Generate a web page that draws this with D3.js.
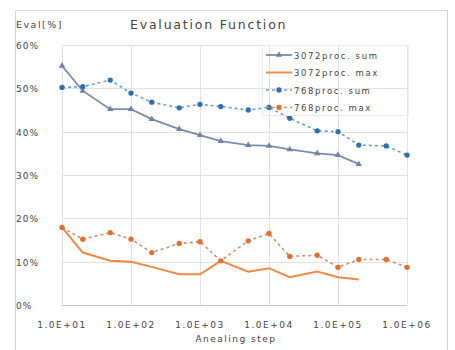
<!DOCTYPE html>
<meta charset="utf-8">
<script src="https://d3js.org/d3.v7.min.js"></script>
<style>
  body { margin: 0; background: #fff; }
  text { font-family: "DejaVu Sans", sans-serif; fill: #454545; }
</style>
<div id="chart"></div>
<script>
  // Annealing steps (1-2-5 sequence)
  const steps3072 = [10, 20, 50, 100, 200, 500, 1e3, 2e3, 5e3, 1e4, 2e4, 5e4, 1e5, 2e5];
  const steps768 = [10, 20, 50, 100, 200, 500, 1e3, 2e3, 5e3, 1e4, 2e4, 5e4, 1e5, 2e5, 5e5, 1e6];

  // Evaluation values in %
  const sum3072 = [55.2, 49.4, 45.2, 45.2, 42.9, 40.6, 39.2, 37.8, 36.9, 36.7, 35.9, 35.0, 34.6, 32.5];
  const max3072 = [17.9, 12.1, 10.2, 10.0, 8.8, 7.1, 7.1, 10.2, 7.7, 8.5, 6.4, 7.7, 6.4, 5.9];
  const sum768 = [50.2, 50.4, 51.9, 48.9, 46.8, 45.5, 46.3, 45.8, 45.0, 45.6, 43.1, 40.2, 40.0, 36.9, 36.7, 34.6];
  const max768 = [17.9, 15.2, 16.7, 15.2, 12.1, 14.2, 14.6, 10.2, 14.8, 16.5, 11.2, 11.5, 8.7, 10.5, 10.5, 8.7];

  const xTicks = [1e1, 1e2, 1e3, 1e4, 1e5, 1e6];
  const yTicks = [0, 10, 20, 30, 40, 50, 60];

  const width = 455, height = 350;
  const plotLeft = 62, plotRight = 407, plotTop = 45, plotBottom = 305;

  const svg = d3.select("#chart").append("svg")
    .attr("width", width)
    .attr("height", height);

  // chart frame
  svg.append("rect")
    .attr("x", 15.5).attr("y", 10.5)
    .attr("width", 432).attr("height", 345)
    .attr("fill", "#fff")
    .attr("stroke", "#d4d4d4");

  const x = d3.scaleLog().domain([10, 1e6]).range([plotLeft, plotRight]);
  const y = d3.scaleLinear().domain([0, 60]).range([plotBottom, plotTop]);

  // grid
  svg.append("g").selectAll("line").data(yTicks).join("line")
    .attr("x1", plotLeft).attr("x2", plotRight)
    .attr("y1", d => Math.round(y(d)) + 0.5).attr("y2", d => Math.round(y(d)) + 0.5)
    .attr("stroke", d => d === 0 ? "#c8c8c8" : "#e2e2e2");
  svg.append("g").selectAll("line").data(xTicks).join("line")
    .attr("y1", plotTop).attr("y2", plotBottom)
    .attr("x1", d => Math.round(x(d)) + 0.5).attr("x2", d => Math.round(x(d)) + 0.5)
    .attr("stroke", "#e2e2e2");

  // tick labels
  svg.append("g").selectAll("text").data(yTicks).join("text")
    .attr("x", 16).attr("y", d => y(d) + 4)
    .attr("font-size", 9).attr("letter-spacing", 1)
    .text(d => d + "%");
  svg.append("g").selectAll("text").data(xTicks).join("text")
    .attr("x", d => x(d)).attr("y", 328)
    .attr("text-anchor", "middle")
    .attr("font-size", 9).attr("letter-spacing", 1.5)
    .text(d => "1.0E+0" + Math.round(Math.log10(d)));

  svg.append("text").attr("x", 236).attr("y", 342)
    .attr("text-anchor", "middle").attr("font-size", 9).attr("letter-spacing", 1.5)
    .text("Anealing step");
  svg.append("text").attr("x", 16).attr("y", 28)
    .attr("font-size", 9.5).attr("letter-spacing", 1.5)
    .text("Eval[%]");
  svg.append("text").attr("x", 130).attr("y", 29)
    .attr("font-size", 12.5).attr("letter-spacing", 1.8)
    .text("Evaluation Function");

  const series = [
    { name: "3072proc. sum", xs: steps3072, ys: sum3072, color: "#7a8cad", mark: "#6f82a5", dash: null, w: 1.8, shape: d3.symbolTriangle, size: 18 },
    { name: "3072proc. max", xs: steps3072, ys: max3072, color: "#ee8a45", mark: null, dash: null, w: 2, shape: null },
    { name: "768proc. sum", xs: steps768, ys: sum768, color: "#6a9fd6", mark: "#2f6fb0", dash: "3,3", w: 1.6, shape: d3.symbolCircle, size: 22 },
    { name: "768proc. max", xs: steps768, ys: max768, color: "#c0957a", mark: "#e0702e", dash: "3,3", w: 1.6, shape: d3.symbolCircle, size: 22 }
  ];

  const line = d3.line().x(d => x(d[0])).y(d => y(d[1]));

  series.forEach(s => {
    const pts = s.xs.map((v, i) => [v, s.ys[i]]);
    svg.append("path")
      .attr("d", line(pts))
      .attr("fill", "none")
      .attr("stroke", s.color)
      .attr("stroke-width", s.w)
      .attr("stroke-dasharray", s.dash);
    if (s.shape) {
      svg.append("g").selectAll("path").data(pts).join("path")
        .attr("transform", d => `translate(${x(d[0])},${y(d[1])})`)
        .attr("d", d3.symbol().type(s.shape).size(s.size))
        .attr("fill", s.mark);
    }
  });

  // legend
  const lg = svg.append("g");
  lg.append("rect")
    .attr("x", 262.5).attr("y", 45.5).attr("width", 146).attr("height", 70)
    .attr("fill", "none").attr("stroke", "#ececec");
  series.forEach((s, i) => {
    const ly = 55 + i * 17.5;
    lg.append("line")
      .attr("x1", 266).attr("x2", 292).attr("y1", ly).attr("y2", ly)
      .attr("stroke", s.color).attr("stroke-width", s.w)
      .attr("stroke-dasharray", s.dash);
    if (s.shape) {
      lg.append("path")
        .attr("transform", `translate(279,${ly})`)
        .attr("d", d3.symbol().type(s.shape).size(s.size))
        .attr("fill", s.mark);
    }
    lg.append("text")
      .attr("x", 294).attr("y", ly + 3.5)
      .attr("font-size", 8.5).attr("letter-spacing", 1.6)
      .text(s.name);
  });
</script>
